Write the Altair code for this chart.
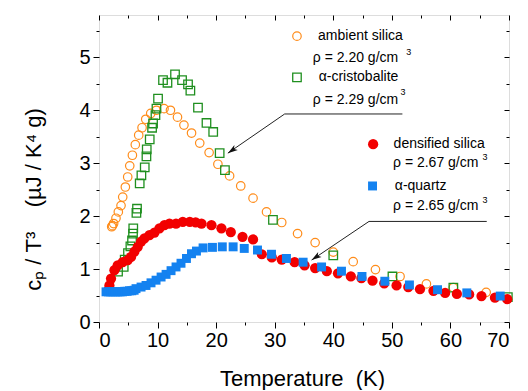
import altair as alt
import pandas as pd

# ---- data ----
amb_T = [2.17, 2.3, 2.5, 2.9, 3.3, 3.76, 4.05, 4.5, 4.9, 5.25, 5.7, 6.2, 6.78, 7.35, 7.98, 8.83,
         9.8, 11.1, 12.2, 13.4, 14.5, 15.8, 17.2, 18.8, 20.3, 22.3, 24.2, 26.3, 28.6, 31.2, 33.9,
         36.9, 40.0, 43.4, 47.2, 51.4, 55.9, 60.5, 66.1]
amb_c = [1.80, 1.82, 1.86, 1.96, 2.08, 2.20, 2.36, 2.55, 2.74, 2.95, 3.15, 3.35, 3.53, 3.67, 3.83, 3.94,
         4.00, 4.03, 4.00, 3.87, 3.72, 3.57, 3.38, 3.20, 2.98, 2.76, 2.57, 2.34, 2.08, 1.88, 1.67,
         1.50, 1.32, 1.14, 0.99, 0.86, 0.72, 0.65, 0.56]

cri_T = [3.25, 4.22, 4.39, 4.95, 5.36, 5.64, 5.81, 5.85, 6.39, 6.49, 6.95, 7.24, 7.81, 8.1, 8.15, 8.66,
         9.06, 9.23, 9.64, 9.81, 10.08, 10.93, 11.69, 12.98, 14.18, 15.2, 15.6, 16.9, 18.35, 19.5,
         20.6, 21.5, 29.7, 40.0, 50.1, 60.5, 69.8]
cri_c = [0.95, 1.04, 1.18, 1.30, 1.43, 1.54, 1.67, 1.77, 2.06, 2.14, 2.62, 2.77, 2.92, 3.13, 3.26, 3.45,
         3.67, 3.75, 3.91, 4.03, 4.22, 4.57, 4.52, 4.68, 4.57, 4.49, 4.37, 4.05, 3.76, 3.59,
         3.19, 2.87, 1.93, 1.26, 0.86, 0.65, 0.47]

den_T = [1.6, 1.78, 2.05, 2.63, 3.19, 4.05, 4.9, 5.47, 6.05, 6.61, 7.18, 7.76, 8.61, 9.47, 10.32, 11.17,
         12.03, 13.15, 14.3, 15.5, 16.5, 17.5, 19.2, 20.9, 22.5, 24.5, 26.3, 27.8, 29.5, 31.2, 33.4,
         35.1, 36.9, 38.9, 40.8, 43.0, 44.8, 46.7, 48.7, 50.8, 52.8, 54.8, 57.1, 59.1, 61.1, 63.2,
         65.3, 67.6, 69.7]
den_c = [0.60, 0.69, 0.82, 0.98, 1.07, 1.13, 1.17, 1.23, 1.33, 1.42, 1.52, 1.58, 1.64, 1.69, 1.77, 1.83,
         1.86, 1.86, 1.89, 1.89, 1.88, 1.86, 1.83, 1.77, 1.70, 1.61, 1.56, 1.28, 1.22, 1.18, 1.13,
         1.07, 1.02, 0.96, 0.92, 0.86, 0.83, 0.78, 0.73, 0.69, 0.66, 0.62, 0.59, 0.55, 0.53, 0.52,
         0.49, 0.46, 0.43]

qtz_T = [1.2, 1.6, 2.0, 2.4, 2.8, 3.2, 3.6, 4.0, 4.4, 4.8, 5.2, 5.6, 6.0, 6.32, 7.18, 8.03, 8.88,
         9.74, 10.6, 11.45, 12.3, 13.15, 14.0, 14.93, 15.79, 16.64, 17.77, 19.37, 21.05, 22.9, 24.8,
         27.06, 29.45, 32.0, 34.85, 38.0, 41.4, 44.9, 48.8, 53.0, 57.8, 62.8, 68.5]
qtz_c = [0.57, 0.57, 0.57, 0.57, 0.57, 0.57, 0.57, 0.57, 0.58, 0.58, 0.59, 0.59, 0.60, 0.63, 0.66, 0.69,
         0.74, 0.79, 0.85, 0.90, 0.97, 1.04, 1.11, 1.20, 1.29, 1.34, 1.40, 1.41, 1.42, 1.42, 1.39,
         1.36, 1.28, 1.20, 1.13, 1.04, 0.96, 0.86, 0.77, 0.70, 0.61, 0.55, 0.49]

x_major = [0, 10, 20, 30, 40, 50, 60, 70]
x_minor = [5, 15, 25, 35, 45, 55, 65]
y_major = [0, 1, 2, 3, 4, 5]
y_minor = [0.5, 1.5, 2.5, 3.5, 4.5, 5.5]

# legend / annotation texts (positions in data units)
lab_text = ["ambient silica", "ρ = 2.20 g/cm", "α-cristobalite", "ρ = 2.29 g/cm",
            "densified silica", "ρ = 2.67 g/cm", "α-quartz", "ρ = 2.65 g/cm"]
lab_x = [37.4, 36.5, 37.5, 36.5, 50.3, 50.2, 50.5, 50.2]
lab_y = [5.40, 4.98, 4.62, 4.19, 3.36, 3.00, 2.57, 2.19]
sup_text = ["3", "3", "3", "3"]
sup_x = [52.9, 51.9, 65.9, 65.9]
sup_y = [5.11, 4.34, 3.11, 2.30]
leg_x = [33.8, 33.8, 46.8, 46.7]
leg_y = [5.40, 4.62, 3.36, 2.57]

# pointer lines: two segments each (horizontal + slanted to the tip)
ptr_seg = ["a", "a", "a", "b", "b", "b"]
ptr_ord = [0, 1, 2, 0, 1, 2]
ptr_x = [51.8, 31.7, 22.0, 66.2, 46.1, 36.3]
ptr_y = [3.93, 3.93, 3.19, 1.90, 1.90, 1.17]
tip_x = [22.0, 36.3]
tip_y = [3.19, 1.17]

FONT = "Liberation Sans"
W, H = 410, 307
NB = "\u00a0"

xs = alt.Scale(domain=[0, 70], nice=False, zero=False)
ys = alt.Scale(domain=[0, 5.8], nice=False, zero=False)


def df(T, c):
    return pd.DataFrame({"T": T, "c": c})


def ax_x(values, size, labels=False, offset=0, title=None, **kw):
    a = dict(values=values, tickSize=size, labels=labels, domain=False, grid=False,
             orient="bottom", offset=offset, ticks=True, tickColor="black", tickWidth=1)
    a["title"] = title
    a.update(kw)
    return alt.Axis(**a)


def ax_y(values, size, labels=False, offset=0, title=None, **kw):
    a = dict(values=values, tickSize=size, labels=labels, domain=False, grid=False,
             orient="left", offset=offset, ticks=True, tickColor="black", tickWidth=1)
    a["title"] = title
    a.update(kw)
    return alt.Axis(**a)


main_x = ax_x(x_major, 6, labels=True, title="Temperature" + NB + NB + "(K)",
              labelFont=FONT, labelFontSize=20, labelColor="black", labelPadding=2,
              titleFont=FONT, titleFontSize=22, titleFontWeight="normal", titleColor="black",
              titleX=203, titleY=56, titleBaseline="middle", titleAlign="center")
main_y = ax_y(y_major, 6, labels=True,
              title="cₚ" + NB + "/" + NB + "T³" + NB + NB + NB + NB + "(µJ" + NB + "/" + NB + "K⁴" + NB + "g)",
              labelFont=FONT, labelFontSize=20, labelColor="black", labelPadding=3,
              titleFont=FONT, titleFontSize=22, titleFontWeight="normal", titleColor="black",
              titleX=-66, titleY=184, titleAngle=270, titleBaseline="middle", titleAlign="center")

orange = "#FF8C1A"
green = "#1F8F1F"
red = "#F20000"
blue = "#1482F0"

amb = alt.Chart(df(amb_T, amb_c)).mark_point(
    shape="circle", filled=False, color=orange, size=72, strokeWidth=1.2, opacity=1
).encode(x=alt.X("T:Q", scale=xs, axis=main_x), y=alt.Y("c:Q", scale=ys, axis=main_y))

cri = alt.Chart(df(cri_T, cri_c)).mark_point(
    shape="square", filled=False, color=green, size=72, strokeWidth=1.3, opacity=1
).encode(x=alt.X("T:Q", scale=xs, axis=ax_x(x_minor, 3)),
         y=alt.Y("c:Q", scale=ys, axis=ax_y(y_minor, 3)))

den = alt.Chart(df(den_T, den_c)).mark_point(
    shape="circle", filled=True, color=red, size=105, opacity=1
).encode(x=alt.X("T:Q", scale=xs, axis=ax_x(x_major, 5, offset=-H)),
         y=alt.Y("c:Q", scale=ys, axis=ax_y(y_major, 5, offset=-W)))

qtz = alt.Chart(df(qtz_T, qtz_c)).mark_point(
    shape="square", filled=True, color=blue, size=80, opacity=1
).encode(x=alt.X("T:Q", scale=xs, axis=ax_x(x_minor, 3, offset=-H)),
         y=alt.Y("c:Q", scale=ys, axis=ax_y(y_minor, 3, offset=-W)))

# legend symbols
leg_df = pd.DataFrame({"x": leg_x, "y": leg_y, "k": ["amb", "cri", "den", "qtz"]})


def legsym(k, **mk):
    return alt.Chart(leg_df[leg_df.k == k]).mark_point(opacity=1, **mk).encode(
        x=alt.X("x:Q", scale=xs, axis=None), y=alt.Y("y:Q", scale=ys, axis=None))


leg1 = legsym("amb", shape="circle", filled=False, color=orange, size=72, strokeWidth=1.2)
leg2 = legsym("cri", shape="square", filled=False, color=green, size=72, strokeWidth=1.3)
leg3 = legsym("den", shape="circle", filled=True, color=red, size=105)
leg4 = legsym("qtz", shape="square", filled=True, color=blue, size=80)

labels = alt.Chart(pd.DataFrame({"x": lab_x, "y": lab_y, "t": lab_text})).mark_text(
    font=FONT, fontSize=14, align="left", baseline="middle", color="black"
).encode(x=alt.X("x:Q", scale=xs, axis=None), y=alt.Y("y:Q", scale=ys, axis=None), text="t:N")

sups = alt.Chart(pd.DataFrame({"x": sup_x, "y": sup_y, "t": sup_text})).mark_text(
    font=FONT, fontSize=9, align="center", baseline="middle", color="black"
).encode(x=alt.X("x:Q", scale=xs, axis=None), y=alt.Y("y:Q", scale=ys, axis=None), text="t:N")

ptr = alt.Chart(pd.DataFrame({"x": ptr_x, "y": ptr_y, "s": ptr_seg, "o": ptr_ord})).mark_line(
    color="#222222", strokeWidth=1
).encode(x=alt.X("x:Q", scale=xs, axis=None), y=alt.Y("y:Q", scale=ys, axis=None),
         detail="s:N", order="o:Q")

tips = alt.Chart(pd.DataFrame({"x": tip_x, "y": tip_y})).mark_point(
    shape="M0,0L-3,10L0,7.5L3,10Z", filled=True, color="#111111", size=4, angle=235.6, opacity=1
).encode(x=alt.X("x:Q", scale=xs, axis=None), y=alt.Y("y:Q", scale=ys, axis=None))

chart = alt.layer(
    amb, cri, den, qtz, leg1, leg2, leg3, leg4, labels, sups, ptr, tips
).resolve_axis(x="independent", y="independent").properties(
    width=W, height=H,
    autosize=alt.AutoSizeParams(type="none"),
    padding={"left": 91, "top": 7, "right": 11, "bottom": 68},
).configure_view(stroke="black", strokeWidth=1).configure(background="white")

chart.save("out.html", embed_options={"renderer": "svg", "actions": False})
